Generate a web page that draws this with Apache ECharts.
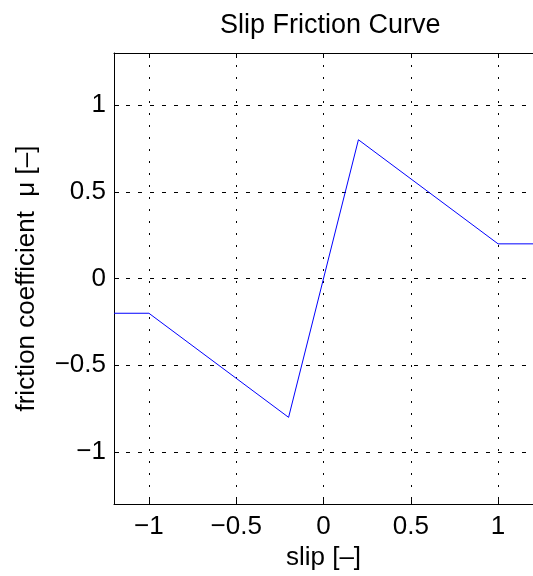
<!DOCTYPE html>
<html>
<head>
<meta charset="utf-8">
<script src="https://cdn.jsdelivr.net/npm/echarts@6/dist/echarts.min.js"></script>
<style>html,body{margin:0;padding:0;background:#fff}#c{width:533px;height:576px}</style>
</head>
<body>
<div id="c"></div>
<script>
const slip = [-1.2, -1.0, -0.2, 0.2, 1.0, 1.2];
const mu = [-0.2, -0.2, -0.8, 0.8, 0.2, 0.2];
const xTicks = [-1, -0.5, 0, 0.5, 1];
const yTicks = [-1, -0.5, 0, 0.5, 1];
const titleText = 'Slip Friction Curve';
const xName = 'slip [\u2013]';
const yName = 'friction coefficient  \u03bc [\u2013]';

const FONT = "'Liberation Sans', Arial, Helvetica, sans-serif";
const fmt = v => String(v).replace('-', '\u2212');
const chart = echarts.init(document.getElementById('c'), null, {renderer: 'canvas'});
chart.setOption({
  animation: false,
  backgroundColor: '#fff',
  title: {text: titleText, left: 215, top: 7, textStyle: {fontFamily: FONT, fontSize: 27, fontWeight: 'normal', color: '#000'}},
  grid: {left: 114, top: 53, width: 420, height: 452, containLabel: false},
  xAxis: [{
    type: 'value', min: -1.2, max: 1.2, position: 'bottom',
    name: xName, nameLocation: 'middle', nameGap: 38,
    nameTextStyle: {fontFamily: FONT, fontSize: 26, color: '#000'},
    axisLine: {show: true, onZero: false, lineStyle: {color: '#000', width: 1}},
    axisTick: {show: true, inside: true, length: 5, customValues: xTicks, lineStyle: {color: '#000'}},
    axisLabel: {customValues: xTicks, formatter: fmt, margin: 10, fontFamily: FONT, fontSize: 26, color: '#000'},
    splitLine: {show: true, lineStyle: {color: '#000', width: 1, type: [2, 10]}}
  }, {
    type: 'value', min: -1.2, max: 1.2, position: 'top',
    axisLine: {show: true, onZero: false, lineStyle: {color: '#000', width: 1}},
    axisTick: {show: true, inside: true, length: 5, customValues: xTicks, lineStyle: {color: '#000'}},
    axisLabel: {show: false},
    splitLine: {show: false}
  }],
  yAxis: [{
    type: 'value', min: -1.3, max: 1.3,
    name: yName, nameLocation: 'middle', nameGap: 74,
    nameTextStyle: {fontFamily: FONT, fontSize: 26, color: '#000'},
    axisLine: {show: true, onZero: false, lineStyle: {color: '#000', width: 1}},
    axisTick: {show: true, inside: true, length: 5, customValues: yTicks, lineStyle: {color: '#000'}},
    axisLabel: {customValues: yTicks, formatter: fmt, margin: 8, fontFamily: FONT, fontSize: 26, color: '#000'},
    splitLine: {show: true, lineStyle: {color: '#000', width: 1, type: [4, 8]}}
  }],
  series: [{
    type: 'line', xAxisIndex: 0, yAxisIndex: 0,
    data: slip.map((x, i) => [x, mu[i]]),
    showSymbol: false, symbol: 'none',
    lineStyle: {color: '#0000ff', width: 1},
    clip: true
  }]
});
</script>
</body>
</html>
